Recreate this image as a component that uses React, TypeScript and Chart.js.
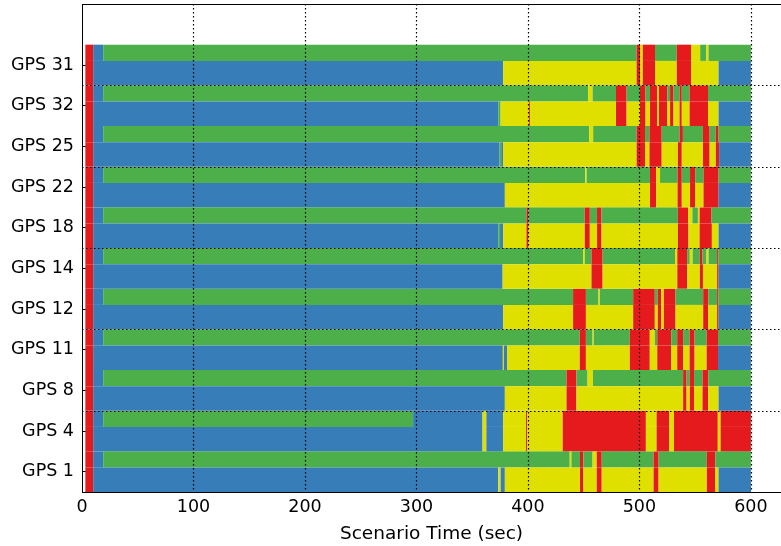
import React, { useEffect, useRef } from 'react';
import { Chart, registerables } from 'chart.js';

Chart.register(...registerables);

// Satellites from bottom to top
const SATELLITES = ['GPS 1', 'GPS 4', 'GPS 8', 'GPS 11', 'GPS 12', 'GPS 14', 'GPS 18', 'GPS 22', 'GPS 25', 'GPS 32', 'GPS 31'];
const X_TICKS = [0, 100, 200, 300, 400, 500, 600];
const X_MAX = 627;
const Y_MAX = 12;
const Y_GRID = [2, 4, 6, 8, 10];
const END_TIME = 600;

const STATE_COLORS: Record<string, string> = {
  R: '#e41a1c',
  B: '#377eb8',
  G: '#4daf4a',
  Y: '#e0e000',
};

type Step = [number, string];

// Each track: [start time, state]; a state lasts until the next start (last one until END_TIME)
const GPS31_TOP: Step[] = [[3, 'R'], [10, 'B'], [19, 'G'], [497.5, 'R'], [500.5, 'Y'], [503, 'R'], [514, 'G'], [533.5, 'R'], [546.5, 'Y'], [554.5, 'G'], [560, 'Y'], [562, 'G']];
const GPS31_BOTTOM: Step[] = [[3, 'R'], [10, 'B'], [377.8, 'Y'], [497.5, 'R'], [500.5, 'Y'], [503, 'R'], [514, 'Y'], [533.5, 'R'], [546.5, 'Y'], [571, 'B']];

const GPS32_TOP: Step[] = [[3, 'R'], [10, 'B'], [19, 'G'], [454, 'Y'], [458, 'G'], [479, 'R'], [488.5, 'G'], [500.5, 'R'], [505.5, 'G'], [509.5, 'R'], [516, 'Y'], [517.5, 'R'], [525, 'G'], [527.5, 'R'], [530.5, 'G'], [536, 'R'], [538, 'G'], [545, 'R'], [561.5, 'G']];
const GPS32_BOTTOM: Step[] = [[3, 'R'], [10, 'B'], [373.5, 'G'], [375.5, 'Y'], [401, 'R'], [401.8, 'Y'], [479, 'R'], [488.5, 'Y'], [500.5, 'R'], [505.5, 'Y'], [509.5, 'R'], [516, 'Y'], [517.5, 'R'], [525, 'Y'], [527.5, 'R'], [530.5, 'Y'], [536, 'R'], [538, 'Y'], [545, 'R'], [561.5, 'Y'], [571, 'B']];

const GPS25_TOP: Step[] = [[3, 'R'], [10, 'B'], [19, 'G'], [455, 'Y'], [458.5, 'G'], [497.5, 'R'], [505, 'G'], [509, 'R'], [520, 'G'], [536, 'R'], [539, 'G'], [557, 'R'], [563, 'G'], [568.5, 'R'], [571, 'G']];
const GPS25_BOTTOM: Step[] = [[3, 'R'], [10, 'B'], [374.5, 'G'], [376, 'B'], [377.7, 'Y'], [497.5, 'R'], [505, 'Y'], [509, 'R'], [520, 'Y'], [534.5, 'R'], [538, 'Y'], [557, 'R'], [563, 'Y'], [568.5, 'R'], [571.5, 'B']];

const GPS22_TOP: Step[] = [[3, 'R'], [10, 'B'], [19, 'G'], [451.5, 'Y'], [452.7, 'G'], [509.5, 'R'], [515, 'Y'], [518.5, 'G'], [534.2, 'R'], [538, 'G'], [545.4, 'R'], [550, 'G'], [557.5, 'R'], [571, 'G']];
const GPS22_BOTTOM: Step[] = [[3, 'R'], [10, 'B'], [379.3, 'Y'], [509.5, 'R'], [515, 'Y'], [534.2, 'R'], [538, 'Y'], [545.4, 'R'], [550, 'Y'], [557.5, 'R'], [571, 'B']];

const GPS18_TOP: Step[] = [[3, 'R'], [10, 'B'], [19, 'G'], [398.7, 'R'], [400.5, 'G'], [451, 'R'], [455.5, 'G'], [462, 'R'], [466, 'G'], [534.5, 'R'], [543.7, 'Y'], [547.5, 'G'], [552.5, 'Y'], [554, 'R'], [564.7, 'G']];
const GPS18_BOTTOM: Step[] = [[3, 'R'], [10, 'B'], [373.4, 'G'], [375, 'B'], [377.8, 'Y'], [398.7, 'R'], [400.5, 'Y'], [451, 'R'], [455.5, 'Y'], [462, 'R'], [466, 'Y'], [534.5, 'R'], [544, 'Y'], [554, 'R'], [565, 'Y'], [571, 'B']];

const GPS14_TOP: Step[] = [[3, 'R'], [10, 'B'], [19, 'G'], [449.5, 'Y'], [451, 'G'], [457, 'R'], [467, 'G'], [532, 'Y'], [534, 'R'], [542.8, 'G'], [545.2, 'Y'], [547.7, 'G'], [554.2, 'R'], [556.6, 'G'], [560.2, 'Y'], [562, 'G'], [569.7, 'R'], [571, 'G']];
const GPS14_BOTTOM: Step[] = [[3, 'R'], [10, 'B'], [377.3, 'Y'], [457, 'R'], [467, 'Y'], [534, 'R'], [542.8, 'Y'], [554.2, 'R'], [557, 'Y'], [569.7, 'R'], [571, 'B']];

const GPS12_TOP: Step[] = [[3, 'R'], [10, 'B'], [19, 'G'], [440.5, 'R'], [452, 'G'], [463.3, 'Y'], [464.5, 'G'], [494.4, 'R'], [513.8, 'G'], [516.5, 'R'], [519.5, 'Y'], [521.9, 'R'], [532.4, 'G'], [557.2, 'R'], [561.7, 'G'], [569.7, 'R'], [571, 'G']];
const GPS12_BOTTOM: Step[] = [[3, 'R'], [10, 'B'], [377.8, 'Y'], [440.5, 'R'], [452, 'Y'], [494.4, 'R'], [513.8, 'Y'], [516.5, 'R'], [519.5, 'Y'], [521.9, 'R'], [532.4, 'Y'], [557.2, 'R'], [561.7, 'Y'], [569.7, 'R'], [571, 'B']];

const GPS11_TOP: Step[] = [[3, 'R'], [10, 'B'], [19, 'G'], [446.5, 'R'], [452, 'G'], [458, 'Y'], [459.1, 'G'], [491.4, 'R'], [509.3, 'Y'], [513.8, 'G'], [516, 'R'], [528.5, 'G'], [533.9, 'R'], [539.2, 'G'], [545, 'R'], [549.5, 'G'], [560.3, 'R'], [570.5, 'G']];
const GPS11_BOTTOM: Step[] = [[3, 'R'], [10, 'B'], [377.5, 'Y'], [378.5, 'B'], [381.3, 'Y'], [446.5, 'R'], [452, 'Y'], [491.4, 'R'], [509.3, 'Y'], [516, 'R'], [528.5, 'Y'], [533.9, 'R'], [539.2, 'Y'], [545, 'R'], [549.5, 'Y'], [560.3, 'R'], [570.5, 'B']];

const GPS8_TOP: Step[] = [[3, 'R'], [10, 'B'], [19, 'G'], [434.6, 'R'], [443.5, 'G'], [453.5, 'Y'], [458.3, 'G'], [539.2, 'R'], [542.3, 'G'], [545.2, 'R'], [549, 'G'], [556.6, 'R'], [561.7, 'G']];
const GPS8_BOTTOM: Step[] = [[3, 'R'], [10, 'B'], [379.3, 'Y'], [434.6, 'R'], [443.5, 'Y'], [539.2, 'R'], [542.3, 'Y'], [545.2, 'R'], [549, 'Y'], [556.6, 'R'], [561.7, 'Y'], [571, 'B']];

const GPS4_TOP: Step[] = [[3, 'R'], [10, 'B'], [19, 'G'], [297, 'B'], [359.3, 'Y'], [362.7, 'B'], [377.8, 'Y'], [398.3, 'R'], [399.3, 'Y'], [431.2, 'R'], [505.8, 'Y'], [515.4, 'R'], [526.8, 'Y'], [531, 'R'], [570.3, 'Y'], [572.8, 'R']];
const GPS4_BOTTOM: Step[] = [[3, 'R'], [10, 'B'], [359.3, 'Y'], [362.7, 'B'], [377.8, 'Y'], [398.3, 'R'], [399.3, 'Y'], [431.2, 'R'], [505.8, 'Y'], [515.4, 'R'], [526.8, 'Y'], [531, 'R'], [570.3, 'Y'], [572.8, 'R']];

const GPS1_TOP: Step[] = [[3, 'R'], [10, 'B'], [19, 'G'], [437.5, 'Y'], [439, 'G'], [446.7, 'R'], [449.7, 'G'], [458, 'Y'], [461.7, 'R'], [466.2, 'G'], [512.7, 'R'], [517.2, 'G'], [560.5, 'R'], [568, 'G']];
const GPS1_BOTTOM: Step[] = [[3, 'R'], [10, 'B'], [373.4, 'Y'], [375.5, 'B'], [379.3, 'Y'], [446.7, 'R'], [449.7, 'Y'], [461.7, 'R'], [466.2, 'Y'], [512.7, 'R'], [517.2, 'Y'], [560.5, 'R'], [568, 'Y'], [571, 'B']];

// in the same order as SATELLITES (bottom to top)
const TRACKS_TOP = [GPS1_TOP, GPS4_TOP, GPS8_TOP, GPS11_TOP, GPS12_TOP, GPS14_TOP, GPS18_TOP, GPS22_TOP, GPS25_TOP, GPS32_TOP, GPS31_TOP];
const TRACKS_BOTTOM = [GPS1_BOTTOM, GPS4_BOTTOM, GPS8_BOTTOM, GPS11_BOTTOM, GPS12_BOTTOM, GPS14_BOTTOM, GPS18_BOTTOM, GPS22_BOTTOM, GPS25_BOTTOM, GPS32_BOTTOM, GPS31_BOTTOM];

// row layout inside each satellite band [i, i+1]
const BOTTOM_CENTER = 0.3; // band fraction 0..0.6
const TOP_CENTER = 0.8; // band fraction 0.6..1.0

function buildSegments(tracks: Step[][], offset: number) {
  const out: { x: [number, number]; y: number; s: string }[] = [];
  tracks.forEach((steps, i) => {
    steps.forEach((st, k) => {
      const end = k + 1 < steps.length ? steps[k + 1][0] : END_TIME;
      out.push({ x: [st[0], end], y: i + offset, s: st[1] });
    });
  });
  return out;
}

const FONT = 'DejaVu Sans';
const zeroPad = (s: any) => {
  s.paddingTop = 0;
  s.paddingBottom = 0;
  s.paddingLeft = 0;
  s.paddingRight = 0;
};

// dotted grid drawn above everything at the scales' grid values (matplotlib draws the grid on top)
const gridOnTop = {
  id: 'gridOnTop',
  afterDraw(chart: any) {
    const { ctx, chartArea: a, scales } = chart;
    ctx.save();
    ctx.strokeStyle = '#000000';
    ctx.lineWidth = 1.2;
    ctx.setLineDash([1.5, 2.5]);
    X_TICKS.filter((v) => v > 0).forEach((v) => {
      const px = Math.round(scales.x.getPixelForValue(v)) + 0.5;
      ctx.beginPath();
      ctx.moveTo(px, a.top);
      ctx.lineTo(px, a.bottom);
      ctx.stroke();
    });
    Y_GRID.forEach((v) => {
      const py = Math.round(scales.y.getPixelForValue(v)) + 0.5;
      ctx.beginPath();
      ctx.moveTo(a.left, py);
      ctx.lineTo(a.right, py);
      ctx.stroke();
    });
    ctx.restore();
  },
};

export default function App() {
  const ref = useRef<HTMLCanvasElement | null>(null);

  useEffect(() => {
    if (!ref.current) return;
    const labelTicks = SATELLITES.map((_, i) => i + 0.5);
    const yTickValues = [...labelTicks, ...Y_GRID].sort((a, b) => a - b);
    const color = (c: any) => STATE_COLORS[(c.raw && c.raw.s) || 'B'];

    const chart = new Chart(ref.current, {
      type: 'bar',
      plugins: [gridOnTop],
      data: {
        datasets: [
          {
            data: buildSegments(TRACKS_BOTTOM, BOTTOM_CENTER) as any,
            backgroundColor: color as any,
            borderWidth: 0,
            grouped: false,
            categoryPercentage: 1,
            barPercentage: 1.2,
          },
          {
            data: buildSegments(TRACKS_TOP, TOP_CENTER) as any,
            backgroundColor: color as any,
            borderWidth: 0,
            grouped: false,
            categoryPercentage: 1,
            barPercentage: 0.8,
          },
        ],
      },
      options: {
        indexAxis: 'y',
        animation: false,
        responsive: false,
        maintainAspectRatio: false,
        layout: { padding: { top: 4, right: 0, bottom: 0, left: 0 } },
        plugins: { legend: { display: false }, tooltip: { enabled: false } },
        scales: {
          x: {
            type: 'linear',
            position: 'bottom',
            min: 0,
            max: X_MAX,
            offset: false,
            afterBuildTicks: (s: any) => {
              s.ticks = X_TICKS.map((v) => ({ value: v }));
            },
            afterFit: (s: any) => {
              s.height = 54;
              zeroPad(s);
            },
            ticks: {
              autoSkip: false,
              maxRotation: 0,
              padding: 10,
              color: '#000',
              font: { family: FONT, size: 17.5 },
              callback: (v: any) => String(v),
            },
            grid: {
              offset: false,
              drawOnChartArea: false,
              drawTicks: true,
              tickLength: -5,
              tickColor: '#000',
              lineWidth: 1,
            },
            border: { z: 2, display: true, color: '#000', width: 1 },
            title: {
              display: true,
              text: 'Scenario Time (sec)',
              color: '#000',
              font: { family: FONT, size: 18.5 },
              padding: { top: 0, bottom: 1 },
            },
          },
          x2: {
            type: 'linear',
            position: 'top',
            display: true,
            afterFit: (s: any) => {
              s.height = 0;
              zeroPad(s);
            },
            ticks: { display: false },
            grid: { drawOnChartArea: false, drawTicks: false },
            border: { z: 2, display: true, color: '#000', width: 1 },
          },
          y: {
            type: 'linear',
            min: 0,
            max: Y_MAX,
            offset: false,
            afterBuildTicks: (s: any) => {
              s.ticks = yTickValues.map((v) => ({ value: v }));
            },
            afterFit: (s: any) => {
              s.width = 82;
              zeroPad(s);
            },
            ticks: {
              autoSkip: false,
              padding: 13,
              color: '#000',
              font: { family: FONT, size: 17.5 },
              callback: (v: any) => {
                const i = Number(v) - 0.5;
                return Number.isInteger(i) && SATELLITES[i] ? SATELLITES[i] : '';
              },
            },
            grid: {
              offset: false,
              drawOnChartArea: false,
              drawTicks: true,
              tickLength: -5,
              lineWidth: 1,
              tickColor: (c: any) => (c.tick && labelTicks.includes(c.tick.value) ? '#000' : 'rgba(0,0,0,0)'),
            },
            border: { z: 2, display: true, color: '#000', width: 1 },
          },
        },
      } as any,
    });
    return () => chart.destroy();
  }, []);

  return (
    <div style={{ position: 'absolute', left: 0, top: 0, width: 781, height: 546 }}>
      <canvas ref={ref} width={781} height={546} style={{ width: 781, height: 546, display: 'block' }} />
    </div>
  );
}
